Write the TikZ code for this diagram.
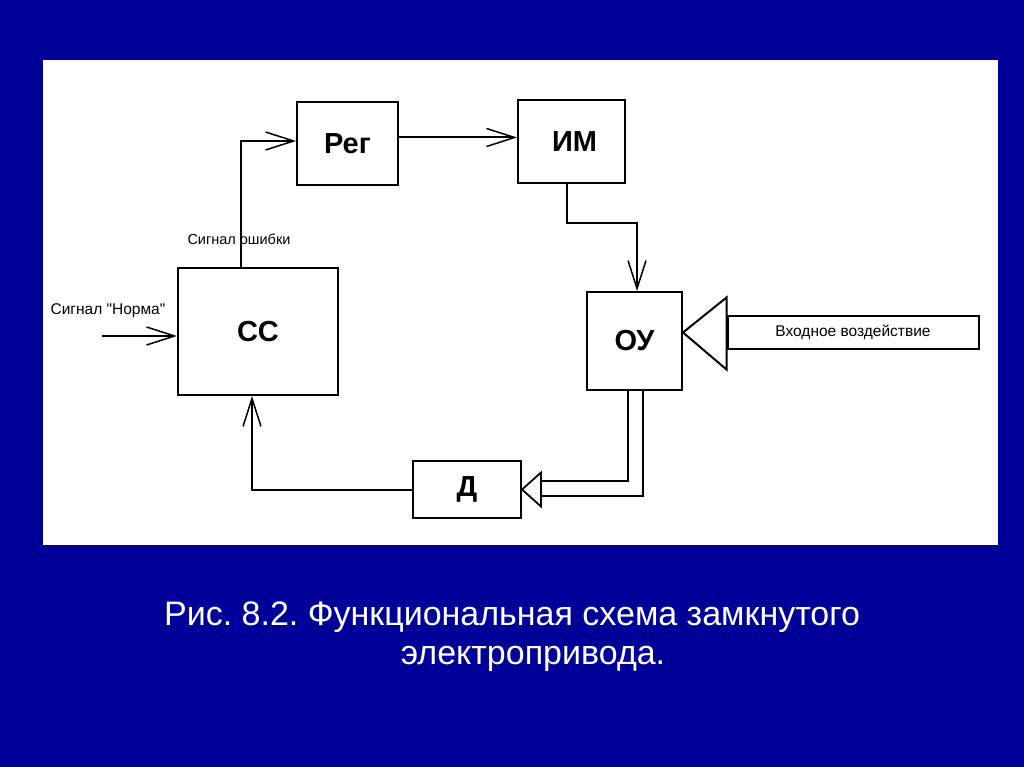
\documentclass[tikz,border=0pt]{standalone}
\usepackage{fontspec}
\setmainfont{Liberation Sans}
\newfontfamily\labfont{Liberation Sans}[Ligatures=ResetAll]
\usetikzlibrary{arrows.meta,calc}
\definecolor{bg}{HTML}{000099}
\frenchspacing
\begin{document}
\begin{tikzpicture}[x=1pt,y=-1pt,
  box/.style={draw, line width=2pt, inner sep=0pt, font=\fontsize{29}{29}\selectfont\bfseries},
  lab/.style={font=\labfont\fontsize{15.5}{15.5}\selectfont, inner sep=0pt},
  conn/.style={line width=2pt},
  barb/.style={-{Straight Barb[length=28pt,width=18pt,line width=1.5pt]}},
  captxt/.style={text=white, font=\fontsize{34}{34}\selectfont, inner sep=0pt}]
\fill[bg] (0,0) rectangle (1024,767);
\useasboundingbox (0,0) rectangle (1024,767);
\fill[white] (43,60) rectangle (998,545);

\node[box, minimum width=160pt, minimum height=127pt] (cc) at (258,331.5) {СС};
\node[box, minimum width=101pt, minimum height=83pt] (reg) at (347.5,143.5) {Рег};
\node[box, minimum width=107pt, minimum height=83pt] (im) at (571.5,141.5) {\hspace{6pt}ИМ};
\node[box, minimum width=95pt, minimum height=98pt] (ou) at (634.5,341) {ОУ};
\node[box, minimum width=108pt, minimum height=57pt] (d) at (467,489.5) {Д};
\node[box, lab, minimum width=251pt, minimum height=33pt] (inp) at (853,332.5) {Входное воздействие};

% labels
\node[lab] (lnorm) at (108,311) {Сигнал "Норма"};
\node[lab, font=\labfont\fontsize{14.5}{14.5}\selectfont] (lerr) at (239,239) {Сигнал ошибки};

% connectors
\coordinate (nstart) at (102,336);
\draw[conn,barb] (nstart) -- (cc.west |- nstart);
\draw[conn,barb] ($(cc.north west)+(64,0)$) |- ($(reg.west)+(0,-2.5)$);
\coordinate (rs) at ($(reg.east)+(0,-6)$);
\draw[conn,barb] (rs) -- (im.west |- rs);
\draw[conn,barb] ($(im.south west)+(50,0)$) -- ++(0,39) -| ($(ou.north)+(2.5,0)$);
\draw[conn,barb] (d.west) -| ($(cc.south west)+(75,0)$);

% double line from OU to D
\draw[line width=2pt, double=white, double distance=13pt]
  ($(ou.south)+(0.5,0)$) |- ($(d.east)+(19,-1)$);
\draw[line width=1.8pt, fill=white, line join=miter]
  (d.east) -- ++(19,-17) -- ++(0,34) -- cycle;

% input triangle
\draw[line width=2pt, fill=white]
  (ou.east |- inp.west) -- ($(inp.west)+(0,-35)$) -- ($(inp.west)+(0,37)$) -- cycle;

% caption
\node[captxt] (c1) at (512,617) {Рис. 8.2. Функциональная схема замкнутого};
\node[captxt] (c2) at (533,659) {электропривода.};
\end{tikzpicture}
\end{document}
